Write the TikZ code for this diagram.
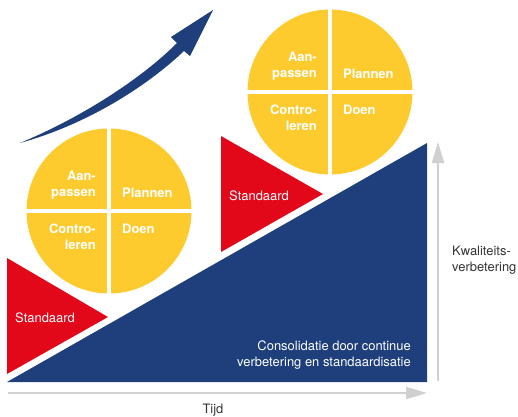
\documentclass[tikz,border=0pt]{standalone}
\usepackage{fontspec}
\setmainfont{TeX Gyre Heros}
\usetikzlibrary{arrows.meta, positioning, calc}
\definecolor{pdcageel}{HTML}{FDCB2E}
\definecolor{pdcarood}{HTML}{E2081A}
\definecolor{pdcablauw}{HTML}{1E3F7B}
\definecolor{pijlgrijs}{HTML}{D0D0D0}
\definecolor{tekstgrijs}{HTML}{333333}

\begin{document}
\begin{tikzpicture}[x=1bp, y=-1bp,
  wiel/.style={circle, fill=pdcageel, minimum size=165bp, inner sep=0},
  kwart/.style={text=white, font=\fontsize{13}{16.5}\selectfont\bfseries, inner sep=0},
  tekst/.style={font=\fontsize{13}{16.5}\selectfont, inner sep=0},
  aspijl/.style={draw=pijlgrijs, line width=2bp, -{Triangle[length=21bp, width=12bp, fill=pijlgrijs]}}]
\useasboundingbox (0,0) rectangle (518,416);

% stijgende pijl
\fill[pdcablauw] (20,143) .. controls (80,118) and (140,80) .. (177,43) -- (171,37) -- (213,10) -- (190,56) -- (184,51) .. controls (145,88) and (85,125) .. (20,143) -- cycle;

% consolidatie
\fill[pdcablauw] (7,382) -- (427,382) -- (427,143) -- cycle;
\node (consolidatie)[tekst, text=white, anchor=east, align=right] at (411,355) {Consolidatie door continue\\verbetering en standaardisatie};

% standaarden
\fill[pdcarood] (7,258) -- (108,317) -- (7,374) -- cycle;
\node (standaard1)[tekst, text=white, anchor=west] at (15,318) {Standaard};
\fill[pdcarood] (221,136) -- (323,194) -- (221,252) -- cycle;
\node (standaard2)[tekst, text=white, anchor=west] at (229,196) {Standaard};

% PDCA wiel onder
\node (wiel1)[wiel] at (109,211) {};
\draw[white, line width=4bp] (wiel1.north) -- (wiel1.south);
\draw[white, line width=4bp] (wiel1.west) -- (wiel1.east);
\node (aanpassen1)[kwart, anchor=east, align=right] at ([xshift=-13bp, yshift=26bp]wiel1.center) {Aan-\\passen};
\node (plannen1)[kwart, anchor=west] at ([xshift=13bp, yshift=18bp]wiel1.center) {Plannen};
\node (controleren1)[kwart, anchor=east, align=right] at ([xshift=-13bp, yshift=-26bp]wiel1.center) {Contro-\\leren};
\node (doen1)[kwart, anchor=west] at ([xshift=13bp, yshift=-18bp]wiel1.center) {Doen};

% PDCA wiel boven
\node (wiel2)[wiel] at (330,92) {};
\draw[white, line width=4bp] (wiel2.north) -- (wiel2.south);
\draw[white, line width=4bp] (wiel2.west) -- (wiel2.east);
\node (aanpassen2)[kwart, anchor=east, align=right] at ([xshift=-13bp, yshift=26bp]wiel2.center) {Aan-\\passen};
\node (plannen2)[kwart, anchor=west] at ([xshift=13bp, yshift=18bp]wiel2.center) {Plannen};
\node (controleren2)[kwart, anchor=east, align=right] at ([xshift=-13bp, yshift=-26bp]wiel2.center) {Contro-\\leren};
\node (doen2)[kwart, anchor=west] at ([xshift=13bp, yshift=-18bp]wiel2.center) {Doen};

% assen
\coordinate (tijd0) at (8,393);
\coordinate (tijd1) at (427,393);
\draw[aspijl] (tijd0) -- (tijd1);
\node (tijd)[tekst, text=tekstgrijs] at (213,410) {Tijd};

\coordinate (kwal0) at (438,381);
\coordinate (kwal1) at (438,142);
\draw[aspijl] (kwal0) -- (kwal1);
\node (kwaliteit)[tekst, text=tekstgrijs, anchor=west, align=left] at (452,260) {Kwaliteits-\\verbetering};

\end{tikzpicture}
\end{document}
